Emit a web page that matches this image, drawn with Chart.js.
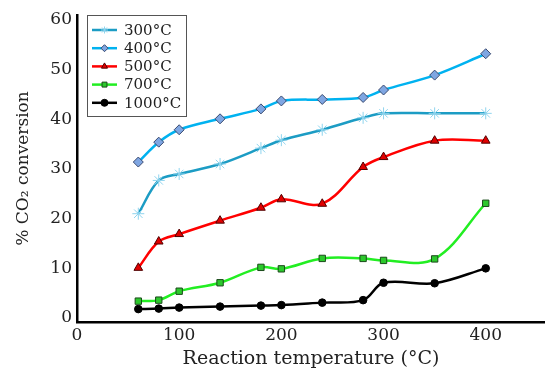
<!DOCTYPE html>
<html>
<head>
<meta charset="utf-8">
<script src="https://cdn.jsdelivr.net/npm/chart.js@4/dist/chart.umd.min.js"></script>
<style>
  html, body { margin: 0; padding: 0; background: #fff; }
  #wrap { width: 545px; height: 373px; }
</style>
</head>
<body>
<div id="wrap"><canvas id="chart" width="545" height="373"></canvas></div>
<script>
// temperatures on the x axis (°C)
const temps = [60, 80, 100, 140, 180, 200, 240, 280, 300, 350, 400];
// % CO2 conversion for each series
const conv300 = [21.0, 27.7, 29.0, 31.0, 34.2, 35.8, 37.9, 40.3, 41.2, 41.2, 41.2];
const conv400 = [31.4, 35.4, 37.9, 40.1, 42.1, 43.7, 44.0, 44.4, 45.9, 48.9, 53.2];
const conv500 = [10.1, 15.4, 16.9, 19.6, 22.2, 23.9, 23.0, 30.4, 32.4, 35.7, 35.7];
const conv700 = [3.4, 3.6, 5.4, 7.1, 10.2, 9.9, 12.0, 12.0, 11.6, 11.9, 23.1];
const conv1000 = [1.8, 1.9, 2.1, 2.3, 2.5, 2.6, 3.1, 3.6, 7.1, 7.0, 10.0];
const seriesLabels = ["300°C", "400°C", "500°C", "700°C", "1000°C"];
const xTicks = [0, 100, 200, 300, 400];
const yTicks = [0, 10, 20, 30, 40, 50, 60];

const serif = "'DejaVu Serif', 'Liberation Serif', serif";

function pts(arr) {
  return temps.map((t, i) => ({ x: t, y: arr[i] }));
}

function makeSet(label, arr, line, fill, border, style, radius) {
  return {
    label: label,
    data: pts(arr),
    borderColor: line,
    borderWidth: 2.5,
    backgroundColor: fill,
    pointBackgroundColor: fill,
    pointBorderColor: border,
    pointBorderWidth: 1,
    pointStyle: style,
    pointRadius: radius,
    tension: 0.35,
    fill: false,
  };
}

// legend drawn inside the plot, top left
const insideLegend = {
  id: "insideLegend",
  afterDraw(chart) {
    const c = chart.ctx;
    const x0 = 87, y0 = 15, w = 99, h = 101;
    c.save();
    c.fillStyle = "#fff";
    c.fillRect(x0, y0, w, h);
    c.strokeStyle = "#555";
    c.lineWidth = 1;
    c.strokeRect(x0 + 0.5, y0 + 0.5, w, h);
    c.font = "15px " + serif;
    c.textBaseline = "middle";
    chart.data.datasets.forEach((ds, i) => {
      const y = 30 + i * 18.2;
      c.strokeStyle = ds.borderColor;
      c.lineWidth = 2.5;
      c.beginPath();
      c.moveTo(92, y);
      c.lineTo(117, y);
      c.stroke();
      c.fillStyle = ds.pointBackgroundColor;
      c.strokeStyle = ds.pointBorderColor;
      c.lineWidth = 1;
      Chart.helpers.drawPoint(c, {
        pointStyle: ds.pointStyle,
        radius: Math.min(ds.pointRadius, 3.5),
        rotation: 0,
        borderWidth: 1,
      }, 104.5, y);
      c.fillStyle = "#222";
      c.fillText(ds.label, 124, y + 1);
    });
    c.restore();
  },
};

const myChart = new Chart(document.getElementById("chart"), {
  type: "line",
  data: {
    datasets: [
      makeSet(seriesLabels[0], conv300, "#1c9cc4", "#9fdcf2", "#8fd4ee", "star", 6),
      makeSet(seriesLabels[1], conv400, "#00b2f0", "#7fa6e2", "#3a4a70", "rectRot", 5),
      makeSet(seriesLabels[2], conv500, "#ff0000", "#e00000", "#500000", "triangle", 5),
      makeSet(seriesLabels[3], conv700, "#22ee22", "#2cc82c", "#1a4a1a", "rect", 4.5),
      makeSet(seriesLabels[4], conv1000, "#000000", "#000000", "#000000", "circle", 3.8),
    ],
  },
  options: {
    responsive: false,
    animation: false,
    layout: { padding: 0, autoPadding: false },
    plugins: {
      legend: { display: false },
      tooltip: { enabled: false },
    },
    scales: {
      x: {
        type: "linear",
        min: 0,
        max: 458,
        afterBuildTicks: (s) => { s.ticks = xTicks.map((v) => ({ value: v })); },
        afterFit: (s) => {
          s.height = 51;
          s.paddingLeft = 0;
          s.paddingRight = 0;
        },
        grid: { display: false, drawTicks: false },
        border: { display: true, color: "#000", width: 2.5 },
        ticks: { color: "#222", font: { family: serif, size: 17 }, padding: 3 },
        title: {
          display: true,
          text: "Reaction temperature (°C)",
          color: "#222",
          font: { family: serif, size: 19 },
          padding: { top: 2, bottom: 3 },
        },
      },
      y: {
        min: -0.8,
        max: 61,
        afterBuildTicks: (s) => { s.ticks = yTicks.map((v) => ({ value: v })); },
        afterFit: (s) => {
          s.width = 77;
          s.paddingTop = 15;
          s.paddingBottom = 0;
        },
        grid: { display: false, drawTicks: false },
        border: { display: true, color: "#000", width: 2.5 },
        ticks: { color: "#222", font: { family: serif, size: 17 }, padding: 5 },
        title: {
          display: true,
          text: "% CO₂ conversion",
          color: "#222",
          font: { family: serif, size: 17 },
          padding: { top: 13, bottom: 0 },
        },
      },
    },
  },
  plugins: [insideLegend],
});
</script>
</body>
</html>
